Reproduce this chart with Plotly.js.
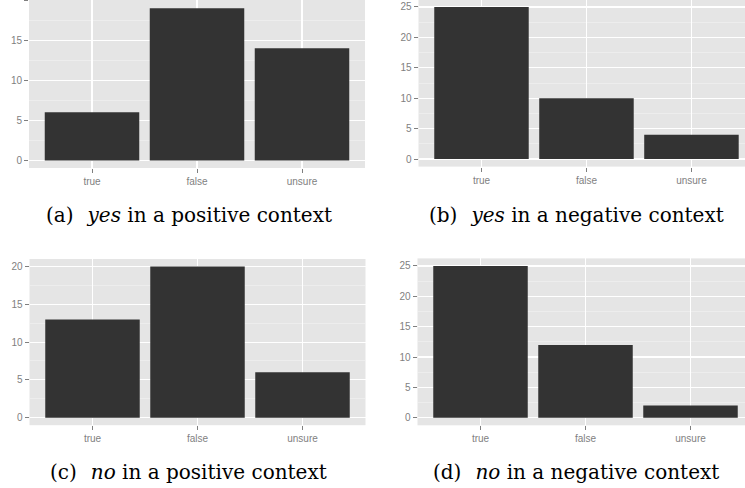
<!DOCTYPE html>
<html>
<head>
<meta charset="utf-8">
<script src="https://cdn.plot.ly/plotly-3.0.1.min.js"></script>
<style>
html,body{margin:0;padding:0;background:#fff;}
#chart{width:745px;height:488px;}
</style>
</head>
<body>
<div id="chart"></div>
<script>
// ---- data ----
const categories = ["true", "false", "unsure"];
const yesPositive = [6, 19, 14];
const yesNegative = [25, 10, 4];
const noPositive = [13, 20, 6];
const noNegative = [25, 12, 2];
const captions = [
  "(a)\u2002\u2009<i>yes</i> in a positive context",
  "(b)\u2002\u2009<i>yes</i> in a negative context",
  "(c)\u2002\u2009<i>no</i> in a positive context",
  "(d)\u2002\u2009<i>no</i> in a negative context"
];

// ---- layout helpers ----
const W = 745, H = 488;
const px = v => v / W;
const py = v => 1 - v / H;

const barColor = "#333333";
function barTrace(vals, xa, ya) {
  return {
    type: "bar", x: categories, y: vals, xaxis: xa, yaxis: ya,
    width: 0.9, marker: {color: barColor, line: {width: 0}},
    hoverinfo: "x+y", showlegend: false
  };
}

const tickFont = {family: "Liberation Sans, Arial, sans-serif", size: 10, color: "#7f7f7f"};
function xAxis(domL, domR, rangeR, anchor) {
  return {
    domain: [px(domL), px(domR)], anchor: anchor,
    type: "category", range: [-0.6, rangeR],
    showgrid: true, gridcolor: "#ffffff", gridwidth: 1.1,
    zeroline: false, showline: false,
    ticks: "outside", ticklen: 4, tickwidth: 1, tickcolor: "#7f7f7f",
    tickfont: tickFont, fixedrange: true
  };
}
function yAxis(top, bottom, range, anchor) {
  return {
    domain: [py(bottom), py(top)], anchor: anchor,
    range: range, tick0: 0, dtick: 5,
    showgrid: true, gridcolor: "#ffffff", gridwidth: 1.1,
    minor: {tick0: 0, dtick: 2.5, showgrid: true, gridcolor: "#f2f2f2", gridwidth: 0.6, ticks: ""},
    zeroline: false, showline: false,
    ticks: "outside", ticklen: 4, tickwidth: 1, tickcolor: "#7f7f7f",
    tickfont: tickFont, fixedrange: true
  };
}

const data = [
  barTrace(yesPositive, "x", "y"),
  barTrace(yesNegative, "x2", "y2"),
  barTrace(noPositive, "x3", "y3"),
  barTrace(noNegative, "x4", "y4")
];

const capFont = {family: "DejaVu Serif, serif", size: 20, color: "#000"};
function cap(text, cx, cy) {
  return {text: text, xref: "paper", yref: "paper", x: px(cx), y: py(cy),
          xanchor: "center", yanchor: "middle", showarrow: false, font: capFont};
}

const bg = "#e5e5e5";

const layout = {
  width: W, height: H,
  margin: {l: 0, r: 0, t: 0, b: 0, pad: 0},
  paper_bgcolor: "#ffffff", plot_bgcolor: bg,
  xaxis:  xAxis(29, 365, 2.6, "y"),
  yaxis:  yAxis(0, 168, [-0.95, 20.04], "x"),
  xaxis2: xAxis(418.5, 745, 2.51, "y2"),
  yaxis2: yAxis(0, 166.6, [-1.25, 26.15], "x2"),
  xaxis3: xAxis(29.5, 365.5, 2.6, "y3"),
  yaxis3: yAxis(259, 425.2, [-1, 21], "x3"),
  xaxis4: xAxis(417.5, 745, 2.519, "y4"),
  yaxis4: yAxis(258.4, 425.3, [-1.25, 26.25], "x4"),
  annotations: [
    cap(captions[0], 188.5, 215),
    cap(captions[1], 576, 215),
    cap(captions[2], 188.5, 472),
    cap(captions[3], 576, 472)
  ],
  showlegend: false
};

Plotly.newPlot("chart", data, layout, {displayModeBar: false, staticPlot: true});
</script>
</body>
</html>
